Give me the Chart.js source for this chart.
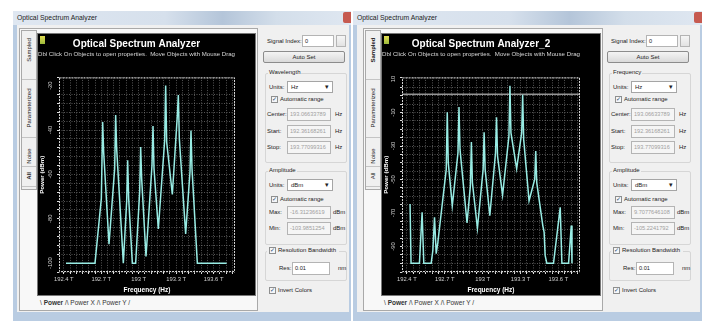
<!DOCTYPE html>
<html>
<head>
<meta charset="utf-8">
<title>Optical Spectrum Analyzer</title>
<script src="https://cdn.jsdelivr.net/npm/chart.js@4.4.1/dist/chart.umd.min.js"></script>
<style>
    body { margin: 0; width: 702px; height: 321px; overflow: hidden; background: #fff; position: relative;
           font-family: "Liberation Sans", Arial, sans-serif; font-size: 6px; color: #222; }
    div, span, canvas { position: absolute; box-sizing: border-box; }
    .win { top: 11px; height: 310px; background: #b9cce2; }
    .titlebar { left: 0; right: 0; top: 0; height: 14px;
                background: linear-gradient(90deg, #dfe7f1 0%, #d6e0ec 45%, #b4c5d9 62%, #d3deea 78%, #dfe7f1 100%); }
    .titlebar span { left: 4px; top: 3px; font-size: 6.8px; color: #1d1d1d; white-space: nowrap; }
    .close { right: 0; top: 1px; width: 8px; height: 11px; background: #c65a50; border-radius: 2px 0 0 2px; }
    .client { top: 14px; bottom: 9px; background: #f0f0f0; }
    .tabpanel { border: 1px solid #a9a9a9; background: #f8f8f8; }
    .scope { background: #000; outline: 1px solid #777; }
    .lbl { white-space: nowrap; line-height: 7px; }
    .vtab { white-space: nowrap; line-height: 7px; transform: translate(-50%, -50%) rotate(-90deg); }
    .field { border: 1px solid #b4b4b4; background: #f5f5f5; color: #a0a0a0; font-size: 5.6px;
             line-height: 11px; padding-left: 2px; overflow: hidden; white-space: nowrap; }
    .field.edit { background: #fff; color: #222; }
    .btn { border: 1px solid #8c8c8c; border-radius: 2px; background: linear-gradient(#f4f4f4, #dadada);
           text-align: center; line-height: 10px; }
    .group { border: 1px solid #d6d6d6; border-radius: 2px; }
    .combo { border: 1px solid #a5a5a5; background: #fff; line-height: 10px; padding-left: 3px; }
    .combo::after { content: "\25BE"; position: absolute; right: 3px; top: 0; font-size: 7px; }
    .chk { width: 7px; height: 7px; border: 1px solid #8e8f8f; background: #f4f6f8; color: #26436b;
           font-size: 6px; line-height: 5px; text-align: center; }
    .spin { border: 1px solid #b4b4b4; background: linear-gradient(#f6f6f6, #e2e2e2); }
    .btabs { font-size: 6.5px; color: #333; }
</style>
</head>
<body>
<script>
// --- datos ---
const freqStart = 192.36168261;   // THz
const freqStop = 193.77099316;    // THz

const freqLeft = [192.4177, 192.6500, 192.7007, 192.7113, 192.7193, 192.7621, 192.8074, 192.8154, 192.8234,
    192.8768, 192.9035, 192.9115, 192.9195, 192.9489, 192.9756, 193.0076, 193.0156, 193.0236, 193.0583,
    193.1064, 193.1144, 193.1224, 193.1571, 193.2078, 193.2158, 193.2238, 193.2692, 193.3092, 193.3172,
    193.3252, 193.3759, 193.4106, 193.4186, 193.4266, 193.4693, 193.7042];
const powerLeft = [-100, -100, -70.8, -36.4, -49.9, -91.5, -57.4, -33.2, -48.4,
    -100, -72.3, -53.6, -70.8, -100, -100, -67.8, -47.7, -61.9, -97,
    -55.9, -38.2, -57.4, -84.6, -44.7, -20, -45.4, -69, -33.5, -24.2,
    -43.9, -86.8, -58.9, -40.2, -57.4, -100, -100];

const freqRight = [192.4254, 192.4333, 192.4997, 192.5209, 192.5342, 192.5926, 192.6059, 192.6191, 192.6324,
    192.6457, 192.7120, 192.7200, 192.7279, 192.7598, 192.8049, 192.8129, 192.8209, 192.8766, 192.9031,
    192.9111, 192.9190, 192.9589, 193.0040, 193.0119, 193.0199, 193.0570, 193.1022, 193.1101, 193.1181,
    193.1579, 193.2083, 193.2163, 193.2243, 193.2694, 193.3092, 193.3171, 193.3251, 193.3676, 193.4127,
    193.4206, 193.4286, 193.4764, 193.4870, 193.4950, 193.5082, 193.5613, 193.6144, 193.6276, 193.6807,
    193.7019, 193.7075];
const powerRight = [-64.6, -100, -100, -69.6, -100, -100, -92.4, -72.6, -94.3,
    -87.4, -43.9, -9.8, -39.9, -65.6, -34, -6.6, -32, -75.9, -53.8,
    -27.6, -51.8, -79.1, -43.9, -21.7, -43.9, -71.6, -34, -12.8, -36,
    -59.3, -24.1, 6, -22.1, -43.5, -22.1, 0.7, -26, -62.7, -49.8,
    -33, -51.8, -77.5, -81.5, -95.3, -100, -100, -66.6, -100, -100,
    -77.5, -100];
const rightMarkerLevel = 1;       // línea horizontal (dBm)

const xTickLabels = [192.4, 192.7, 193.0, 193.3, 193.6];
const leftYTickLabels = [-20, -40, -60, -80, -100];
const rightYTickLabels = [10, -10, -30, -50, -70, -90];
const leftPowerRange = [-103.9851254, -16.31236619];
const rightPowerRange = [-105.2241792, 11];

// --- helpers de la interfaz ---
function box(cls, x, y, w, h, text, parent) {
    const d = document.createElement("div");
    d.className = cls;
    d.style.left = x + "px";
    d.style.top = y + "px";
    if (w) d.style.width = w + "px";
    if (h) d.style.height = h + "px";
    if (text != null) d.textContent = text;
    (parent || document.body).appendChild(d);
    return d;
}
function label(x, yc, text, extra) {
    const d = box("lbl", x, yc - 3.5, 0, 0, text);
    if (extra) Object.assign(d.style, extra);
    return d;
}
function check(x, yc, text) {
    box("chk", x, yc - 3.5, 0, 0, "\u2713");
    if (text) label(x + 9, yc, text);
}

function buildWindow(w) {
    const win = box("win", w.x, 11, w.width, 310);
    const tb = box("titlebar", 0, 0, 0, 0, null, win);
    const t = document.createElement("span");
    t.textContent = "Optical Spectrum Analyzer";
    tb.appendChild(t);
    box("close", w.width - 8, 1, 8, 11, null, win);
    const client = box("client", 4, 14, w.width - 6, 287, null, win);
    client.style.height = "287px";

    // panel con pestañas
    box("tabpanel", w.tabX, 28, w.scopeX + w.scopeW + 3 - w.tabX, 283);
    box("tabpanel", w.tabX + 2, 30, 16, 160).style.background = "#f0f0f0";
    const tabs = [["Sampled", 50], ["Parameterized", 108], ["Noise", 156], ["All", 176]];
    tabs.forEach(([name, yc]) => {
        const d = box("vtab", w.tabX + 10, yc, 0, 0, name);
        if (name === w.activeTab) d.style.fontWeight = "bold";
    });
    [79, 137, 166, 186].forEach(y => box("", w.tabX + 3, y, 14, 1).style.background = "#c4c4c4");

    const scope = box("scope", w.scopeX, 34, w.scopeW, 261);
    const icon = box("", 2, 2, 5, 8, null, scope);
    icon.style.background = "linear-gradient(#e2dc52, #9dbb3c)";
    const cv = document.createElement("canvas");
    cv.id = w.canvasId;
    cv.width = w.scopeW;
    cv.height = 261;
    scope.appendChild(cv);

    // pestañas de abajo
    const bt = label(w.scopeX + 2, 302, "");
    bt.classList.add("btabs");
    bt.innerHTML = "\\ <b>Power</b> /\\ Power X /\\ Power Y /";

    // panel de la derecha
    const p = w.panelX;
    label(p + 5, 41, "Signal Index:");
    box("field edit", p + 40, 35, 32, 12, "0");
    box("spin", p + 74, 35, 10, 12);
    box("btn", p + 1, 51, 82, 12, "Auto Set");

    box("group", p + 3, 73, 82, 90);
    label(p + 6, 72, w.groupName, { background: "#f0f0f0", padding: "0 1px" });
    label(p + 7, 87, "Units:");
    box("combo", p + 25, 81, 46, 12, "Hz");
    check(p + 9, 99, "Automatic range");
    [["Center:", 114, w.center], ["Start:", 131, w.start], ["Stop:", 147, w.stop]].forEach(([n, yc, v]) => {
        label(p + 5, yc, n);
        box("field", p + 25, yc - 6, 44, 13, v);
        label(p + 73, yc, "Hz");
    });

    box("group", p + 3, 171, 82, 74);
    label(p + 6, 170, "Amplitude", { background: "#f0f0f0", padding: "0 1px" });
    label(p + 7, 185, "Units:");
    box("combo", p + 25, 179, 46, 12, "dBm");
    check(p + 9, 199, "Automatic range");
    [["Max:", 212, w.max], ["Min:", 228, w.min]].forEach(([n, yc, v]) => {
        label(p + 7, yc, n);
        box("field", p + 25, yc - 6, 44, 13, v);
        label(p + 71, yc, "dBm");
    });

    box("group", p + 3, 251, 82, 30);
    const rb = box("", p + 5, 246, 72, 8);
    rb.style.background = "#f0f0f0";
    check(p + 7, 250, "Resolution Bandwidth");
    label(p + 17, 268, "Res:");
    box("field edit", p + 30, 262, 38, 13, "0.01");
    label(p + 76, 268, "nm");
    check(p + 7, 290, "Invert Colors");
}

buildWindow({ x: 13, width: 338, tabX: 19, scopeX: 38, scopeW: 217, panelX: 262, canvasId: "oscLeft",
    activeTab: "All", groupName: "Wavelength", center: "193.06633789", start: "192.36168261",
    stop: "193.77099316", max: "-16.31236619", min: "-103.9851254" });
buildWindow({ x: 353, width: 349, tabX: 363, scopeX: 382, scopeW: 218, panelX: 606, canvasId: "oscRight",
    activeTab: "Sampled", groupName: "Frequency", center: "193.06633789", start: "192.36168261",
    stop: "193.77099316", max: "9.7077646108", min: "-105.2241792" });

// --- gráficos ---
Chart.defaults.font.family = '"Liberation Sans", Arial, sans-serif';

// marco punteado y etiquetas verticales del eje Y
const scopeDecor = {
    id: "scopeDecor",
    afterDraw(chart, args, opts) {
        const { ctx, chartArea: a } = chart;
        const y = chart.scales.y;
        ctx.save();
        ctx.strokeStyle = "#d6d6d6";
        ctx.lineWidth = 1;
        ctx.setLineDash([2, 1]);
        ctx.strokeRect(a.left + 0.5, a.top + 0.5, a.width - 1, a.height - 1);
        ctx.setLineDash([]);
        ctx.fillStyle = "#cfcfcf";
        ctx.font = '5.8px "Liberation Sans"';
        ctx.textAlign = "center";
        ctx.textBaseline = "middle";
        opts.labels.forEach(v => {
            ctx.save();
            ctx.translate(a.left - 9, y.getPixelForValue(v));
            ctx.rotate(-Math.PI / 2);
            ctx.fillText(String(v), 0, 0);
            ctx.restore();
        });
        ctx.restore();
    }
};

function makeScope(id, cfg) {
    const datasets = [{
        data: cfg.freq.map((f, i) => ({ x: f, y: cfg.power[i] })),
        borderColor: "#98ece4",
        borderWidth: 1.5,
        pointRadius: 0,
        tension: 0
    }];
    if (cfg.marker != null) {
        datasets.push({
            data: [{ x: freqStart, y: cfg.marker }, { x: freqStop, y: cfg.marker }],
            borderColor: "#dcdcdc",
            borderWidth: 1,
            pointRadius: 0
        });
    }
    return new Chart(document.getElementById(id), {
        type: "line",
        data: { datasets },
        plugins: [scopeDecor],
        options: {
            responsive: false,
            animation: false,
            devicePixelRatio: 1,
            layout: { padding: { right: 20 } },
            plugins: {
                legend: { display: false },
                tooltip: { enabled: false },
                title: {
                    display: true,
                    text: cfg.title,
                    color: "#ffffff",
                    font: { size: 10, weight: "bold" },
                    padding: { top: 4, bottom: 1 }
                },
                subtitle: {
                    display: true,
                    text: "Dbl Click On Objects to open properties.  Move Objects with Mouse Drag",
                    color: "#d8d8d8",
                    font: { size: 6.2 },
                    padding: { top: 0, bottom: 19 }
                },
                scopeDecor: { labels: cfg.yLabels }
            },
            scales: {
                x: {
                    type: "linear",
                    min: freqStart,
                    max: freqStop,
                    afterFit: s => { s.height = 23; },
                    grid: { color: "rgba(140,140,140,0.6)", tickLength: 2, tickColor: "#dddddd" },
                    border: { display: false, dash: [1, 1.5] },
                    ticks: {
                        stepSize: 0.05,
                        includeBounds: false,
                        autoSkip: false,
                        maxRotation: 0,
                        padding: 2,
                        color: "#cfcfcf",
                        font: { size: 5.8 },
                        callback: v => {
                            const t = xTickLabels.find(l => Math.abs(l - v) < 1e-6);
                            return t === undefined ? "" : t + " T";
                        }
                    },
                    title: {
                        display: true,
                        text: "Frequency (Hz)",
                        color: "#ffffff",
                        font: { size: 6.5, weight: "bold" },
                        padding: { top: 0, bottom: 1 }
                    }
                },
                y: {
                    min: cfg.range[0],
                    max: cfg.range[1],
                    afterFit: s => { s.width = cfg.yWidth; },
                    grid: { color: "rgba(140,140,140,0.6)", tickLength: 2, tickColor: "#dddddd" },
                    border: { display: false, dash: [1, 1.5] },
                    ticks: { stepSize: cfg.yStep, display: false },
                    title: {
                        display: true,
                        text: "Power (dBm)",
                        color: "#ffffff",
                        font: { size: 6.2, weight: "bold" },
                        padding: { top: 1, bottom: 0 }
                    }
                }
            }
        }
    });
}

makeScope("oscLeft", {
    title: "Optical Spectrum Analyzer",
    freq: freqLeft, power: powerLeft, range: leftPowerRange,
    yLabels: leftYTickLabels, yStep: 4, yWidth: 21
});
makeScope("oscRight", {
    title: "Optical Spectrum Analyzer_2",
    freq: freqRight, power: powerRight, range: rightPowerRange,
    yLabels: rightYTickLabels, yStep: 5, yWidth: 20, marker: rightMarkerLevel
});
</script>
</body>
</html>
